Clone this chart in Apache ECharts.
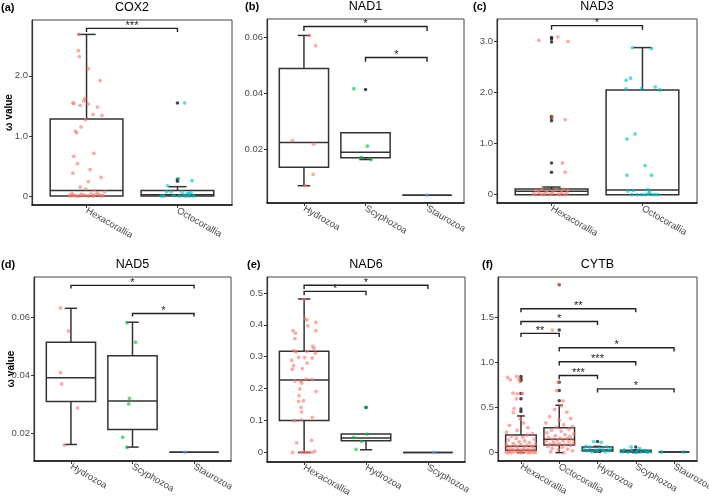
<!DOCTYPE html>
<html>
<head>
<meta charset="utf-8">
<script src="https://cdn.jsdelivr.net/npm/echarts@6/dist/echarts.min.js"></script>
<style>
  html, body { margin: 0; padding: 0; background: #fff; }
  #main { width: 709px; height: 496px; }
</style>
</head>
<body>
<div id="main"></div>
<script>
var FONT = 'Liberation Sans, Arial, sans-serif';
var RED = '#F8766D', CYAN = '#00BFC4', GREEN = '#00BA38', BLUE = '#619CFF';

// box rows: [category, lower whisker, Q1, median, Q3, upper whisker]
// points: [jitter offset, value]; sig: [from cat, to cat, bracket y, tick end y, label]

// (a) COX2
var coxCats = ['Hexacorallia', 'Octocorallia'];
var coxBox = [[1, 0, 0, 0.09, 1.28, 2.69], [2, 0, 0, 0.02, 0.09, 0.155]];
var coxOut = [[2, 1.55], [2, 0.28], [2, 0.245]];
var coxHexa = [[-0.08, 2.69], [-0.09, 2.42], [-0.08, 2.32], [0.02, 2.12], [0.15, 1.92], [-0.15, 1.55], [-0.14, 1.54],
  [-0.07, 1.51], [-0.02, 1.62], [-0.03, 1.58], [0.02, 1.53], [0.07, 1.36], [0.17, 1.34], [0.12, 1.48], [-0.01, 1.27],
  [-0.12, 1.08], [-0.11, 1.05], [-0.06, 1.15], [-0.14, 0.66], [-0.10, 0.54], [0.08, 0.71], [0.04, 0.44], [-0.15, 0.38],
  [0.16, 0.31], [0.02, 0.24], [-0.07, 0.15], [-0.01, 0.12], [0.08, 0.09], [0.20, 0.07],
  [-0.18, 0.01], [-0.15, 0.02], [-0.11, 0], [-0.06, 0.03], [-0.04, 0.01], [0.07, 0], [0.09, 0.02], [0.12, 0.05],
  [0.16, 0], [-0.19, 0], [-0.13, 0.005], [-0.08, 0], [-0.02, 0.015], [0.02, 0], [0.05, 0.035], [0.14, 0.02],
  [0.18, 0.01], [-0.16, 0.04]];
var coxOcto = [[0.08, 1.55], [0.01, 0.29], [0.16, 0.255], [-0.11, 0.17], [-0.12, 0.07], [-0.07, 0.07], [0.05, 0.07],
  [0.11, 0.045], [0.13, 0.04], [0.15, 0.05], [-0.18, 0], [-0.15, 0], [0.02, 0], [0.09, 0], [0.13, 0], [0.18, 0],
  [-0.04, 0.01], [0.06, 0.02]];
var coxSig = [[1, 2, 2.79, 2.73, '***']];

// (b) NAD1
var nad1Cats = ['Hydrozoa', 'Scyphozoa', 'Staurozoa'];
var nad1Box = [[1, 0.0069, 0.0135, 0.0224, 0.0489, 0.0608], [2, 0.0163, 0.0169, 0.0189, 0.0259, 0.0211],
  [3, 0.0035, 0.0035, 0.0035, 0.0035, 0.0035]];
var nad1Out = [[2, 0.0414]];
var nad1Hydro = [[0.09, 0.0608], [0.19, 0.0571], [-0.19, 0.0231], [0.16, 0.0218], [0.15, 0.0110], [0.02, 0.0069]];
var nad1Scypho = [[-0.19, 0.0417], [0.03, 0.0211], [-0.07, 0.0171], [0.09, 0.0163]];
var nad1Stauro = [[0, 0.0035]];
var nad1Sig = [[1, 3, 0.0640, 0.0624, '*'], [2, 3, 0.0529, 0.0514, '*']];

// (c) NAD3
var nad3Cats = ['Hexacorallia', 'Octocorallia'];
var nad3Box = [[1, 0, 0, 0.065, 0.11, 0.15], [2, 0, 0, 0.09, 2.05, 2.88]];
var nad3Out = [[1, 3.08], [1, 3.05], [1, 2.99], [1, 1.53], [1, 1.50], [1, 1.45], [1, 0.62], [1, 0.44]];
var nad3Hexa = [[-0.14, 3.02], [0.07, 3.09], [0.18, 3.0], [0.01, 1.52], [0.15, 1.47], [0.12, 0.62], [0.15, 0.44],
  [-0.2, 0.02], [-0.17, 0.08], [-0.14, 0.05], [-0.11, 0.12], [-0.07, 0.03], [-0.02, 0], [0.02, 0.06], [0.05, 0.1],
  [0.07, 0.01], [0.11, 0.04], [0.15, 0], [0.18, 0.09], [-0.18, 0], [-0.09, 0], [0, 0.02], [0.09, 0],
  [-0.05, 0.07], [0.13, 0.11], [0.17, 0.03], [-0.12, 0.01]];
var nad3Octo = [[-0.11, 2.88], [0.10, 2.86], [-0.18, 2.24], [-0.13, 2.28], [-0.18, 2.07], [-0.01, 2.08], [0.14, 2.11],
  [0.19, 2.05], [-0.08, 1.19], [-0.17, 1.09], [0.03, 0.57], [-0.17, 0.38], [0.10, 0.38], [-0.16, 0.07], [-0.10, 0.08],
  [0.06, 0.10], [0.08, 0.05], [-0.12, 0], [-0.01, 0], [0.04, 0], [0.11, 0], [0.17, 0], [-0.06, 0], [0.07, 0.03], [0.14, 0]];
var nad3Sig = [[1, 2, 3.31, 3.23, '*']];

// (d) NAD5
var nad5Cats = ['Hydrozoa', 'Scyphozoa', 'Staurozoa'];
var nad5Box = [[1, 0.0161, 0.0309, 0.0391, 0.0514, 0.0631], [2, 0.0152, 0.0213, 0.0311, 0.0467, 0.0583],
  [3, 0.0134, 0.0134, 0.0134, 0.0134, 0.0134]];
var nad5Out = [];
var nad5Hydro = [[-0.17, 0.0632], [-0.04, 0.0553], [-0.17, 0.0409], [-0.15, 0.0370], [0.11, 0.0287], [-0.11, 0.0159]];
var nad5Scypho = [[-0.09, 0.0581], [0.05, 0.0514], [-0.05, 0.0320], [-0.06, 0.0301], [-0.16, 0.0186], [-0.09, 0.0151]];
var nad5Stauro = [[-0.15, 0.0134]];
var nad5Sig = [[1, 3, 0.0710, 0.0699, '*'], [2, 3, 0.0613, 0.0603, '*']];

// (e) NAD6
var nad6Cats = ['Hexacorallia', 'Hydrozoa', 'Scyphozoa'];
var nad6Box = [[1, 0, 0.100, 0.227, 0.317, 0.481], [2, 0.0084, 0.0366, 0.045, 0.0575, 0.0575], [3, 0, 0, 0, 0, 0]];
var nad6Out = [[2, 0.141]];
var nad6Hexa = [[0, 0.48], [0.01, 0.42], [0.04, 0.415], [0.19, 0.408], [0.06, 0.397], [-0.18, 0.382], [-0.14, 0.374],
  [0.19, 0.382], [-0.15, 0.357], [0.14, 0.333], [0.16, 0.327], [-0.17, 0.319], [-0.13, 0.315], [0.04, 0.317],
  [0.18, 0.311], [-0.09, 0.298], [0.01, 0.297], [0.13, 0.296], [-0.20, 0.289], [0.05, 0.280], [-0.17, 0.272],
  [-0.19, 0.261], [-0.03, 0.263], [-0.15, 0.224], [-0.05, 0.223], [0.03, 0.230], [0.13, 0.228], [-0.04, 0.217],
  [-0.07, 0.199], [0.19, 0.191], [-0.08, 0.178], [-0.01, 0.162], [-0.09, 0.160], [-0.05, 0.141], [-0.04, 0.127],
  [0.13, 0.110], [-0.16, 0.099], [-0.05, 0.102], [0.12, 0.038], [-0.12, 0.030], [-0.19, 0], [-0.05, 0], [0, 0],
  [0.05, 0], [0.12, 0], [0.17, 0.003]];
var nad6Hydro = [[0, 0.141], [0.02, 0.0575], [-0.2, 0.047], [-0.07, 0.0345], [-0.16, 0.0094]];
var nad6Scypho = [[0.1, 0]];
var nad6Sig = [[1, 2, 0.505, 0.493, '*'], [1, 3, 0.524, 0.512, '*']];

// (f) CYTB
var cytbCats = ['Hexacorallia', 'Octocorallia', 'Hydrozoa', 'Scyphozoa', 'Staurozoa'];
var cytbBox = [[1, 0, 0.026, 0.071, 0.197, 0.408], [2, 0, 0.085, 0.149, 0.278, 0.527], [3, 0.005, 0.019, 0.030, 0.063, 0.07],
  [4, 0, 0.007, 0.015, 0.026, 0.03], [5, 0.007, 0.007, 0.007, 0.007, 0.007]];
var cytbOut = [[1, 0.847], [1, 0.82], [1, 0.80], [1, 0.657], [1, 0.598], [1, 0.486], [1, 0.457], [2, 1.868], [2, 1.363],
  [2, 0.783], [2, 0.69], [2, 0.576], [3, 0.123], [4, 0.063]];
var cytbHexa = [[-0.11, 0.847], [-0.35, 0.836], [-0.28, 0.81], [-0.05, 0.82], [-0.03, 0.79], [-0.10, 0.654], [-0.21, 0.661],
  [0.04, 0.657], [-0.12, 0.598], [-0.18, 0.49], [-0.20, 0.446], [-0.02, 0.375], [0.07, 0.33], [-0.30, 0.304], [0.18, 0.278],
  [-0.10, 0.249], [-0.38, 0.227], [0.16, 0.197], [0.30, 0.21], [-0.25, 0.18], [0.05, 0.17], [-0.12, 0.16], [0.35, 0.15],
  [-0.33, 0.14], [0.10, 0.13], [-0.05, 0.12], [0.22, 0.11], [-0.20, 0.10], [0.38, 0.095], [0, 0.09], [-0.38, 0.085],
  [0.15, 0.08], [-0.15, 0.075], [0.28, 0.07], [-0.28, 0.065], [0.08, 0.06], [-0.08, 0.055], [0.33, 0.05], [-0.35, 0.045],
  [0.20, 0.04], [-0.22, 0.035], [0.02, 0.03], [0.12, 0.028], [-0.12, 0.025], [0.36, 0.02], [-0.30, 0.018], [0.25, 0.015],
  [-0.02, 0.012], [-0.18, 0.01], [0.08, 0.008], [0.30, 0.005], [-0.38, 0.004], [-0.08, 0.003], [0.17, 0.002],
  [-0.25, 0.001], [0.38, 0], [0, 0], [-0.33, 0], [0.22, 0]];
var cytbOcto = [[0, 1.868], [-0.18, 1.363], [-0.03, 0.783], [-0.07, 0.69], [0.10, 0.576], [0.05, 0.52], [-0.12, 0.48],
  [0.20, 0.45], [-0.25, 0.40], [0.30, 0.38], [0, 0.36], [-0.35, 0.33], [0.12, 0.31], [0.35, 0.29], [-0.08, 0.28],
  [0.25, 0.26], [-0.20, 0.25], [0.05, 0.24], [-0.32, 0.22], [0.38, 0.21], [0.15, 0.20], [-0.10, 0.19], [0.28, 0.18],
  [-0.28, 0.17], [0.02, 0.16], [0.20, 0.155], [-0.18, 0.15], [0.33, 0.145], [-0.05, 0.14], [0.10, 0.13], [-0.35, 0.125],
  [0.25, 0.12], [-0.15, 0.11], [0.38, 0.105], [0, 0.10], [-0.25, 0.095], [0.15, 0.09], [-0.08, 0.085], [0.30, 0.08],
  [-0.30, 0.07], [0.08, 0.06], [-0.18, 0.05], [0.22, 0.04], [-0.02, 0.03], [0.35, 0.02], [-0.22, 0.01], [0.12, 0]];
var cytbHydro = [[-0.1, 0.123], [0.1, 0.115], [-0.3, 0.07], [0.25, 0.065], [-0.2, 0.06], [0.05, 0.05], [0.35, 0.045],
  [-0.35, 0.035], [0.15, 0.03], [-0.05, 0.028], [0.3, 0.02], [-0.25, 0.02], [0, 0.015], [0.2, 0.01], [-0.15, 0.008]];
var cytbScypho = [[-0.12, 0.063], [0.1, 0.048], [-0.3, 0.03], [0.25, 0.025], [-0.1, 0.02], [0.05, 0.018], [0.35, 0.012],
  [-0.35, 0.01], [0.15, 0.008], [-0.2, 0.005], [0.3, 0.003], [0, 0.002]];
var cytbStauro = [[-0.33, 0.007], [0.25, 0.007]];
var cytbSig = [[1, 4, 1.60, 1.56, '**'], [1, 3, 1.459, 1.418, '*'], [1, 2, 1.326, 1.285, '**'], [2, 5, 1.166, 1.125, '*'],
  [2, 4, 1.010, 0.969, '***'], [2, 3, 0.858, 0.817, '***'], [3, 5, 0.709, 0.668, '*']];

var panels = [
  { tag: '(a)', title: 'COX2', cats: coxCats, min: -0.15, max: 2.93, ticks: [0, 1, 2], dec: 1, box: coxBox, out: coxOut,
    pts: [[coxHexa, RED], [coxOcto, CYAN]], sig: coxSig, yName: 'ω value', pos: [32, 20, 200, 185] },
  { tag: '(b)', title: 'NAD1', cats: nad1Cats, min: 0.0007, max: 0.0667, ticks: [0.02, 0.04, 0.06], dec: 2, box: nad1Box, out: nad1Out,
    pts: [[nad1Hydro, RED], [nad1Scypho, GREEN], [nad1Stauro, BLUE]], sig: nad1Sig, pos: [267, 19, 197, 184] },
  { tag: '(c)', title: 'NAD3', cats: nad3Cats, min: -0.163, max: 3.44, ticks: [0, 1, 2, 3], dec: 1, box: nad3Box, out: nad3Out,
    pts: [[nad3Hexa, RED], [nad3Octo, CYAN]], sig: nad3Sig, pos: [497, 19, 200, 184] },
  { tag: '(d)', title: 'NAD5', cats: nad5Cats, min: 0.0104, max: 0.0739, ticks: [0.02, 0.04, 0.06], dec: 2, box: nad5Box, out: nad5Out,
    pts: [[nad5Hydro, RED], [nad5Scypho, GREEN], [nad5Stauro, BLUE]], sig: nad5Sig, yName: 'ω value', pos: [34, 277, 197, 184] },
  { tag: '(e)', title: 'NAD6', cats: nad6Cats, min: -0.03, max: 0.55, ticks: [0, 0.1, 0.2, 0.3, 0.4, 0.5], dec: 1, box: nad6Box, out: nad6Out,
    pts: [[nad6Hexa, RED], [nad6Hydro, GREEN], [nad6Scypho, BLUE]], sig: nad6Sig, pos: [267, 277, 198, 185] },
  { tag: '(f)', title: 'CYTB', cats: cytbCats, min: -0.093, max: 1.953, ticks: [0, 0.5, 1, 1.5], dec: 1, box: cytbBox, out: cytbOut,
    pts: [[cytbHexa, RED], [cytbOcto, RED], [cytbHydro, CYAN], [cytbScypho, CYAN], [cytbStauro, CYAN]], sig: cytbSig, pos: [498, 277, 199, 184] }
];

var tagLeft = [1, 245, 473, 1, 247, 482];

var grids = [], xAxes = [], yAxes = [], series = [], titles = [];

panels.forEach(function (p, i) {
  var n = p.cats.length;
  grids.push({ left: p.pos[0], top: p.pos[1], width: p.pos[2], height: p.pos[3], show: true,
    borderColor: '#444', borderWidth: 1, containLabel: false, outerBoundsMode: 'none' });
  var catTicks = p.cats.map(function (c, k) { return k + 1; });
  xAxes.push({
    type: 'value', gridIndex: i, min: 0.4, max: n + 0.6,
    axisLine: { show: true, onZero: false, lineStyle: { color: '#111', width: 1.6 } },
    axisTick: { show: true, customValues: catTicks, length: 3, lineStyle: { color: '#333' } },
    splitLine: { show: false },
    axisLabel: { customValues: catTicks, rotate: -30, margin: 5, fontSize: 9.5, color: '#4d4d4d', fontFamily: FONT,
      formatter: function (v) { return p.cats[Math.round(v) - 1]; } }
  });
  yAxes.push({
    type: 'value', gridIndex: i, min: p.min, max: p.max,
    name: p.yName || '', nameLocation: 'middle', nameGap: 18, nameMoveOverlap: false,
    nameTextStyle: { fontWeight: 'bold', fontSize: 10, color: '#000', fontFamily: FONT },
    axisLine: { show: true, onZero: false, lineStyle: { color: '#333', width: 1.2 } },
    axisTick: { show: true, customValues: p.ticks, length: 3, lineStyle: { color: '#333' } },
    splitLine: { show: false },
    axisLabel: { customValues: p.ticks, margin: 4, fontSize: 9.5, color: '#4d4d4d', fontFamily: FONT,
      formatter: function (v) { return v === 0 ? '0' : v.toFixed(p.dec); } }
  });

  // boxes
  series.push({
    type: 'custom', xAxisIndex: i, yAxisIndex: i, z: 2, silent: true,
    data: p.box,
    renderItem: function (params, api) {
      var x = api.value(0);
      var lo = api.value(1), q1 = api.value(2), md = api.value(3), q3 = api.value(4), hi = api.value(5);
      var half = api.size([0.4, 0])[0];
      var cap = api.size([0.1, 0])[0];
      var cx = api.coord([x, md])[0];
      var yMd = api.coord([x, md])[1], yQ1 = api.coord([x, q1])[1], yQ3 = api.coord([x, q3])[1];
      var yLo = api.coord([x, lo])[1], yHi = api.coord([x, hi])[1];
      var st = { stroke: '#333', lineWidth: 1.5, fill: null };
      var ch = [];
      if (hi > q3) {
        ch.push({ type: 'line', shape: { x1: cx, y1: yQ3, x2: cx, y2: yHi }, style: st });
        ch.push({ type: 'line', shape: { x1: cx - cap, y1: yHi, x2: cx + cap, y2: yHi }, style: st });
      }
      if (lo < q1) {
        ch.push({ type: 'line', shape: { x1: cx, y1: yQ1, x2: cx, y2: yLo }, style: st });
        ch.push({ type: 'line', shape: { x1: cx - cap, y1: yLo, x2: cx + cap, y2: yLo }, style: st });
      }
      ch.push({ type: 'rect', shape: { x: cx - half, y: yQ3, width: 2 * half, height: yQ1 - yQ3 },
        style: { stroke: '#333', lineWidth: 1.5, fill: '#fff' } });
      ch.push({ type: 'line', shape: { x1: cx - half, y1: yMd, x2: cx + half, y2: yMd }, style: st });
      return { type: 'group', children: ch };
    }
  });

  // outliers
  series.push({
    type: 'scatter', xAxisIndex: i, yAxisIndex: i, z: 3, silent: true,
    symbolSize: 3.5, itemStyle: { color: '#1a1a1a' },
    data: p.out
  });

  // jittered points
  p.pts.forEach(function (g, k) {
    series.push({
      type: 'scatter', xAxisIndex: i, yAxisIndex: i, z: 4, silent: true,
      symbolSize: 3.8, itemStyle: { color: g[1], opacity: 0.6 },
      data: g[0].map(function (d) { return [k + 1 + d[0], d[1]]; })
    });
  });

  // significance brackets
  series.push({
    type: 'custom', xAxisIndex: i, yAxisIndex: i, z: 5, silent: true, clip: false,
    data: p.sig.map(function (s) { return [s[0], s[1], s[2], s[3]]; }),
    renderItem: function (params, api) {
      var a = api.coord([api.value(0), api.value(2)]);
      var b = api.coord([api.value(1), api.value(2)]);
      var e = api.coord([api.value(0), api.value(3)])[1];
      return {
        type: 'group',
        children: [
          { type: 'polyline', shape: { points: [[a[0], e], [a[0], a[1]], [b[0], a[1]], [b[0], e]] },
            style: { stroke: '#222', lineWidth: 1.4, fill: null } },
          { type: 'text', style: { text: p.sig[params.dataIndex][4], x: (a[0] + b[0]) / 2, y: a[1] - 2.5,
            align: 'center', verticalAlign: 'middle', fill: '#222', font: '11px ' + FONT } }
        ]
      };
    }
  });

  titles.push({ text: p.title, left: p.pos[0] + p.pos[2] / 2, top: p.pos[1] - 19, textAlign: 'center', padding: 0,
    textStyle: { fontSize: 12.5, fontWeight: 'normal', color: '#000', fontFamily: FONT } });
  titles.push({ text: p.tag, left: tagLeft[i], top: p.pos[1] - 18, padding: 0,
    textStyle: { fontSize: 11, fontWeight: 'bold', color: '#000', fontFamily: FONT } });
});

var dom = document.getElementById('main');
var myChart = echarts.init(dom, null, { renderer: 'canvas' });
var option = {
  backgroundColor: '#fff',
  animation: false,
  title: titles,
  grid: grids,
  xAxis: xAxes,
  yAxis: yAxes,
  series: series
};
myChart.setOption(option, true);
</script>
</body>
</html>
